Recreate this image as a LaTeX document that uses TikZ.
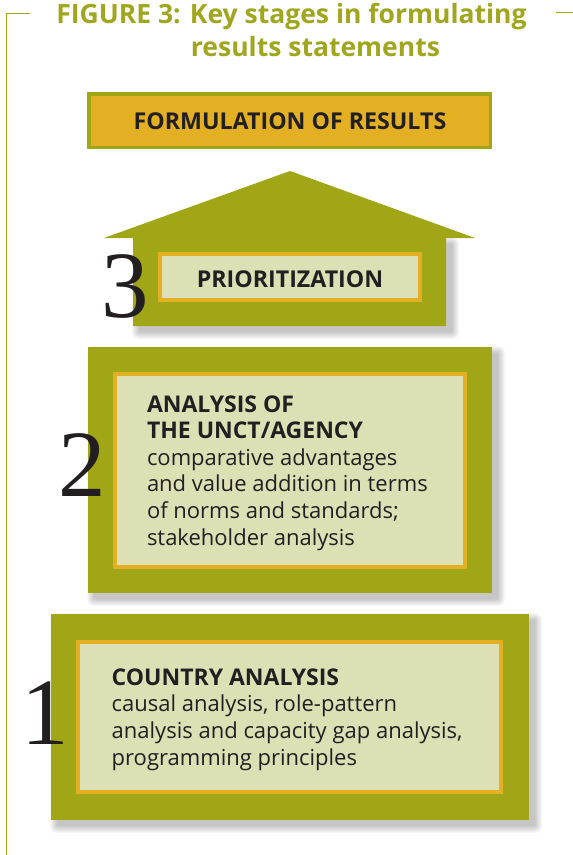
\documentclass[tikz,border=0pt]{standalone}
\usepackage{fontspec}
\setmainfont{Open Sans}
\newfontfamily\digitfont{Liberation Serif}
\definecolor{oliveC}{RGB}{160,166,22}
\definecolor{goldC}{RGB}{228,176,35}
\definecolor{paleC}{RGB}{221,223,181}
\definecolor{inkC}{RGB}{35,31,32}
\definecolor{titleC}{RGB}{160,166,30}
\newcommand\softshadow[4]{%
  \foreach \s in {0,...,7}{%
    \fill[black,opacity=0.03,rounded corners=\s pt] (#1+6-\s,#2+6-\s) rectangle (#3+6+\s,#4+6+\s);}}
\newcommand\headline[1]{{\bfseries\fontsize{23}{26.6}\selectfont #1}}
\begin{document}
\begin{tikzpicture}[x=1pt,y=-1pt,
  every node/.style={inner sep=0pt,outer sep=0pt},
  titletext/.style={font=\bfseries\fontsize{26.5}{33}\selectfont,text=titleC,anchor=base},
  labeltext/.style={font=\bfseries\fontsize{23.2}{26.6}\selectfont,text=inkC,anchor=base},
  bodytext/.style={font=\fontsize{22}{26.6}\selectfont,text=inkC,align=left,anchor=base west},
  digit/.style={font=\digitfont\fontsize{95}{95}\selectfont,text=inkC,anchor=base},
  framerule/.style={draw=oliveC,line width=1.3pt},
  olivefill/.style={fill=oliveC},
  goldframe/.style={draw=goldC,fill=paleC,line width=4pt},
  topframe/.style={draw=oliveC,fill=goldC,line width=3.5pt}]
\useasboundingbox (0,0) rectangle (573,855);

% frame
\draw[framerule] (30,13.3) -- (6.7,13.3) -- (6.7,855);
\draw[framerule] (556,12.5) -- (573,12.5);

% title
\node[titletext] (title1) at (291.5,23.5) {FIGURE 3: Key stages in formulating};
\node[titletext] (title2) at (315.5,56.5) {results statements};

% top box
\draw[topframe] (88.75,93.75) rectangle (490.25,147.25);
\node[labeltext] (formulation) at (290,129.3) {FORMULATION OF RESULTS};

% arrow stage 3
\softshadow{133}{238}{446}{326}
\fill[oliveC] (290,171) -- (475,238) -- (446,238) -- (446,326) -- (133,326) -- (133,238) -- (104,238) -- cycle;
\draw[goldframe] (160,254) rectangle (420,300);
\node[labeltext] (prior) at (290,287) {PRIORITIZATION};
\node[digit] (n3) at (125,317) {3};

% box stage 2
\softshadow{88}{347}{492}{593}
\fill[olivefill] (88,347) rectangle (492,593);
\draw[goldframe] (115,374) rectangle (465,567);
\node[bodytext] (t2) at (147,545) {\headline{ANALYSIS OF}\\\headline{THE UNCT/AGENCY}\\comparative advantages\\and value addition in terms\\of norms and standards;\\stakeholder analysis};
\node[digit] (n2) at (82.5,496) {2};

% box stage 1
\softshadow{51}{614}{529}{820}
\fill[olivefill] (51,614) rectangle (529,820);
\draw[goldframe] (78,642) rectangle (501,792);
\node[bodytext] (t1) at (111.7,765) {\headline{COUNTRY ANALYSIS}\\causal analysis, role-pattern\\analysis and capacity gap analysis,\\programming principles};
\node[digit] (n1) at (45,744) {1};
\end{tikzpicture}
\end{document}
